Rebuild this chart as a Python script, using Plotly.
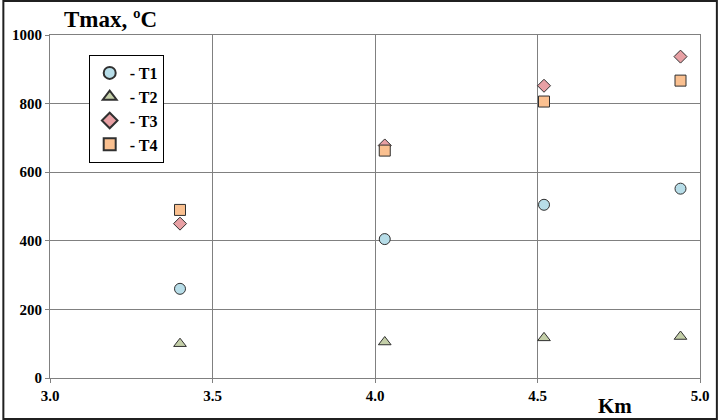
import plotly.graph_objects as go

km = [3.40, 4.03, 4.52, 4.94]
t1 = [260, 405, 505, 552]
t2 = [100, 105, 117, 121]
t3 = [450, 678, 852, 937]
t4 = [490, 663, 806, 867]

series = [
    ("- T1", t1, "circle", "#b7dde8"),
    ("- T2", t2, "triangle-up", "#c4cfa8"),
    ("- T3", t3, "diamond", "#e8a0a4"),
    ("- T4", t4, "square", "#fac090"),
]

W, H = 721, 420
ml, mr, mt, mb = 48, 18, 35, 42
pw, ph = W - ml - mr, H - mt - mb

fig = go.Figure()
for name, vals, sym, col in series:
    fig.add_trace(go.Scatter(
        x=km, y=vals, mode="markers", name=name,
        marker=dict(symbol=sym, size=11 if sym != "diamond" else 10, color=col,
                    line=dict(color="#303030", width=1)),
    ))

font = "Liberation Serif, Times New Roman, serif"
fig.update_layout(
    width=W, height=H,
    margin=dict(l=ml, r=mr, t=mt, b=mb),
    paper_bgcolor="white", plot_bgcolor="white",
    font=dict(family=font, color="black"),
    showlegend=True,
    legend=dict(x=(87 - ml) / pw, y=1 - (55 - mt) / ph, xanchor="left", yanchor="top",
                bordercolor="black", borderwidth=1, bgcolor="white",
                font=dict(size=16, family=font, weight="bold"),
                tracegroupgap=2, itemsizing="constant", itemwidth=30),
    xaxis=dict(range=[3.0, 5.0], dtick=0.5, tickformat=".1f",
               showgrid=True, gridcolor="#808080", gridwidth=1,
               showline=True, linecolor="#808080", mirror=True,
               ticks="outside", ticklen=4, tickcolor="#808080",
               tickfont=dict(size=15, family=font, weight="bold"),
               zeroline=False),
    yaxis=dict(range=[0, 1000], dtick=200,
               showgrid=True, gridcolor="#808080", gridwidth=1,
               showline=True, linecolor="#808080", mirror=True,
               ticks="outside", ticklen=4, tickcolor="#808080",
               tickfont=dict(size=15, family=font, weight="bold"),
               zeroline=False),
    annotations=[
        dict(text="Tmax, ºC", xref="paper", yref="paper",
             x=(60 - ml) / pw, y=1 + 1 / ph, xanchor="left", yanchor="bottom",
             showarrow=False, font=dict(size=23, family=font, weight="bold")),
        dict(text="Km", xref="paper", yref="paper",
             x=(598 - ml) / pw, y=-(406 - H + mb) / ph, xanchor="left", yanchor="middle",
             showarrow=False, font=dict(size=21, family=font, weight="bold")),
    ],
    shapes=[
        dict(type="rect", xref="paper", yref="paper",
             x0=-(ml - 1) / pw, x1=1 + (mr - 1) / pw,
             y0=-(mb - 1) / ph, y1=1 + (mt - 1) / ph,
             line=dict(color="#202020", width=2), layer="above"),
    ],
)

fig.write_html("out.html", config={"displayModeBar": False},
               post_script="document.body.style.margin='0';")
